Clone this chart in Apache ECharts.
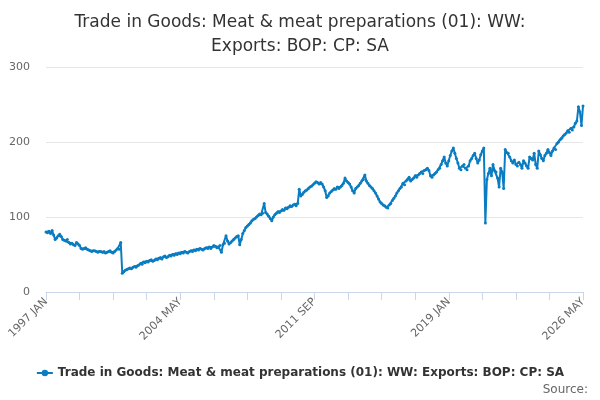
<!DOCTYPE html>
<html><head><meta charset="utf-8">
<script src="https://cdn.jsdelivr.net/npm/echarts@6/dist/echarts.min.js"></script>
<style>html,body{margin:0;padding:0;background:#fff}#c{width:600px;height:400px}</style>
</head><body><div id="c"></div>
<script>
var monthNames = ['JAN','FEB','MAR','APR','MAY','JUN','JUL','AUG','SEP','OCT','NOV','DEC'];
var firstYear = 1997;
// monthly values, one row per year
var y1997 = [80,79,81,78,82,76,70,72,75,77,74,70];
var y1998 = [69,68,70,66,64,65,63,62,66,64,62,58];
var y1999 = [57,58,59,57,56,55,54,55,55,54,53,54];
var y2000 = [54,53,54,52,53,54,55,53,52,54,56,58];
var y2001 = [57,66,25,27,29,30,31,32,31,33,34,33];
var y2002 = [35,36,38,37,40,39,41,40,42,43,41,42];
var y2003 = [44,43,45,46,44,47,48,46,47,49,48,50];
var y2004 = [49,51,50,52,51,53,52,54,53,52,54,55];
var y2005 = [54,56,55,57,56,58,57,56,58,59,58,60];
var y2006 = [58,60,62,61,59,60,62,53,63,65,75,68];
var y2007 = [64,66,68,70,72,74,75,63,70,78,82,86];
var y2008 = [88,90,92,95,97,98,100,102,104,103,105,118];
var y2009 = [106,104,101,98,95,100,103,105,107,106,108,110];
var y2010 = [109,112,111,113,115,114,116,117,115,118,137,128];
var y2011 = [130,133,135,136,138,140,141,143,145,147,146,144];
var y2012 = [146,144,140,135,126,128,132,134,136,138,137,140];
var y2013 = [138,140,142,145,152,148,146,144,140,135,132,138];
var y2014 = [140,142,145,148,150,156,148,145,142,140,138,135];
var y2015 = [132,128,124,120,118,116,115,113,112,116,118,122];
var y2016 = [125,128,132,135,138,140,145,143,148,150,153,148];
var y2017 = [150,152,155,153,156,158,160,158,162,163,165,162];
var y2018 = [155,153,156,158,160,163,165,170,175,180,172,168];
var y2019 = [175,182,188,192,185,178,172,165,163,168,170,165];
var y2020 = [163,168,175,178,182,185,178,172,176,183,188,192];
var y2021 = [92,150,158,165,155,170,162,160,152,140,165,160];
var y2022 = [138,190,186,185,180,175,172,176,170,168,173,170];
var y2023 = [165,175,172,168,165,180,178,176,185,170,165,188];
var y2024 = [183,178,175,182,185,190,186,182,188,192,190,198];
var y2025 = [200,203,205,208,210,212,215,213,218,216,220,225];
var y2026 = [228,247,240,222,248];

var values = [].concat(y1997,y1998,y1999,y2000,y2001,y2002,y2003,y2004,y2005,y2006,
  y2007,y2008,y2009,y2010,y2011,y2012,y2013,y2014,y2015,y2016,y2017,y2018,y2019,
  y2020,y2021,y2022,y2023,y2024,y2025,y2026);
var categories = values.map(function (v, i) {
  return (firstYear + Math.floor(i / 12)) + ' ' + monthNames[i % 12];
});
var yTicks = [0, 100, 200, 300];

var chart = echarts.init(document.getElementById('c'));
chart.setOption({
  animation: false,
  title: {
    text: 'Trade in Goods: Meat & meat preparations (01): WW:\nExports: BOP: CP: SA',
    left: 'center', top: 6,
    textStyle: {fontFamily: 'DejaVu Sans', fontSize: 17, fontWeight: 'normal', color: '#333', lineHeight: 24}
  },
  grid: {left: 46, right: 17, top: 67, bottom: 108},
  xAxis: {
    type: 'category', data: categories, boundaryGap: false,
    axisLine: {lineStyle: {color: '#ccd6eb'}},
    axisTick: {interval: 21, length: 8, lineStyle: {color: '#ccd6eb'}},
    axisLabel: {interval: 87, rotate: 45, color: '#666', fontFamily: 'DejaVu Sans', fontSize: 11, margin: 8}
  },
  yAxis: {
    type: 'value', min: yTicks[0], max: yTicks[yTicks.length - 1], interval: 100,
    axisLine: {show: false}, axisTick: {show: false},
    splitLine: {lineStyle: {color: '#e6e6e6'}},
    axisLabel: {color: '#666', fontFamily: 'DejaVu Sans', fontSize: 11, margin: 16}
  },
  legend: {
    bottom: 16, left: 'center', itemWidth: 16, itemHeight: 8,
    textStyle: {fontFamily: 'DejaVu Sans', fontSize: 12, fontWeight: 'bold', color: '#333'}
  },
  graphic: [{type: 'text', right: 12, bottom: 4,
    style: {text: 'Source:', fontFamily: 'DejaVu Sans', fontSize: 12, fill: '#666'}}],
  series: [{
    name: 'Trade in Goods: Meat & meat preparations (01): WW: Exports: BOP: CP: SA',
    type: 'line', data: values, symbol: 'circle', symbolSize: 3, showAllSymbol: true,
    itemStyle: {color: '#0a7cc1'}, lineStyle: {width: 2, color: '#0a7cc1'}
  }]
});
</script></body></html>
